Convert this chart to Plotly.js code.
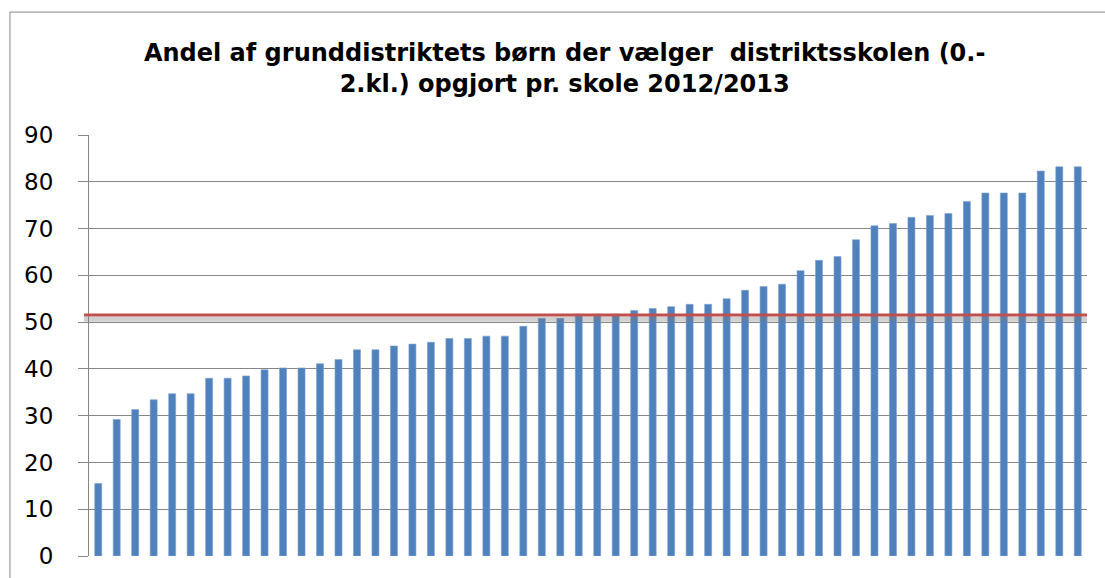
<!DOCTYPE html>
<html>
<head>
<meta charset="utf-8">
<script src="https://cdn.plot.ly/plotly-3.0.1.min.js"></script>
<style>html,body{margin:0;padding:0;background:#fff;}#chart{width:1105px;height:578px;}</style>
</head>
<body>
<div id="chart"></div>
<script>
// Schools (one bar per school, unlabeled in the original)
const schools = Array.from({length: 54}, (_, i) => 'Skole ' + (i + 1));
// Share (%) of district children choosing the district school, sorted ascending
const shares = [
  15.5, 29.2, 31.3, 33.4, 34.7, 34.7, 38.0, 38.0, 38.5, 39.8,
  40.2, 40.2, 41.1, 42.0, 44.1, 44.1, 44.9, 45.3, 45.7, 46.5,
  46.5, 47.0, 47.0, 49.1, 50.8, 50.8, 51.7, 51.7, 51.7, 52.5,
  52.9, 53.3, 53.8, 53.8, 55.0, 56.8, 57.6, 58.1, 61.0, 63.2,
  64.0, 67.6, 70.6, 71.1, 72.4, 72.8, 73.2, 75.8, 77.6, 77.6,
  77.6, 82.3, 83.2, 83.2
];
// Overall average (red reference line)
const average = 51.5;
const yTicks = [0, 10, 20, 30, 40, 50, 60, 70, 80, 90];
const titleText = 'Andel af grunddistriktets børn der vælger  distriktsskolen (0.-<br>2.kl.) opgjort pr. skole 2012/2013';

const trace = {
  type: 'bar',
  x: schools,
  y: shares,
  marker: {color: '#4F81BD', line: {color: '#7FA3D1', width: 0.6}},
  hoverinfo: 'y',
  showlegend: false
};

const layout = {
  width: 1105,
  height: 578,
  margin: {l: 89, r: 18, t: 135, b: 22, pad: 0},
  paper_bgcolor: '#ffffff',
  plot_bgcolor: '#ffffff',
  bargap: 0.62,
  font: {family: '"DejaVu Sans", sans-serif', color: '#000'},
  title: {
    text: titleText,
    font: {family: '"DejaVu Sans", sans-serif', size: 24, color: '#000', weight: 'bold'},
    x: 0.511, xanchor: 'center', xref: 'container',
    y: 0.895, yanchor: 'middle', yref: 'container'
  },
  xaxis: {
    type: 'category',
    showticklabels: false,
    ticks: '',
    showgrid: false,
    showline: false,
    zeroline: false,
    range: [-0.5, 53.5]
  },
  yaxis: {
    range: [0, 90],
    tickvals: yTicks,
    ticktext: yTicks.map(String),
    ticks: 'outside',
    ticklen: 10,
    tickcolor: '#868686',
    tickwidth: 1,
    ticklabelstandoff: 20,
    tickfont: {size: 23, color: '#000', family: '"DejaVu Sans", sans-serif'},
    showgrid: true,
    gridcolor: '#868686',
    gridwidth: 1,
    showline: true,
    linecolor: '#868686',
    linewidth: 1,
    zeroline: false
  },
  shapes: [
    // chart area frame
    {type: 'rect', xref: 'paper', yref: 'paper', x0: -0.0792, x1: 1.2, y0: -0.2, y1: 1.292,
     line: {color: '#868686', width: 1}, fillcolor: 'rgba(0,0,0,0)', layer: 'below'},
    // shadow under average line
    {type: 'line', xref: 'paper', yref: 'y', x0: -0.005, x1: 1, y0: average - 0.9, y1: average - 0.9,
     line: {color: 'rgba(120,120,120,0.35)', width: 5}, layer: 'above'},
    // average line
    {type: 'line', xref: 'paper', yref: 'y', x0: -0.005, x1: 1, y0: average, y1: average,
     line: {color: '#C0504D', width: 3}, layer: 'above'}
  ]
};

Plotly.newPlot('chart', [trace], layout, {displayModeBar: false, staticPlot: true});
</script>
</body>
</html>
